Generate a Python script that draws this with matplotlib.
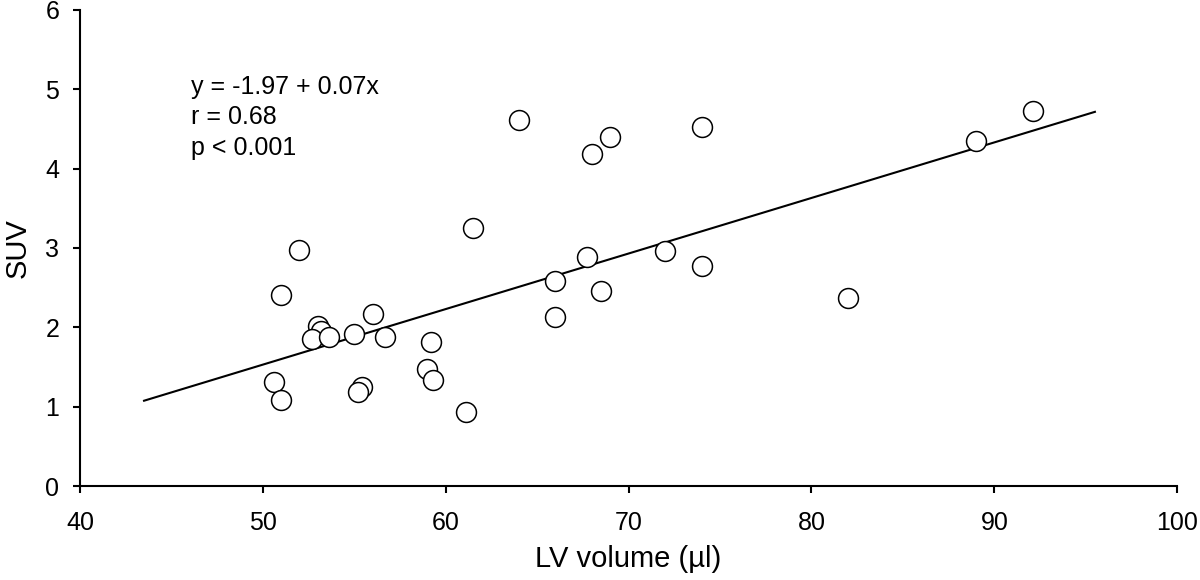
import numpy as np
import matplotlib
matplotlib.use('Agg')
import matplotlib.pyplot as plt

# Dados
lv_volume = [92.1, 89.0, 64.0, 69.0, 68.0, 74.0, 61.5, 52.0, 51.0, 67.7,
             72.0, 74.0, 66.0, 68.5, 82.0, 66.0, 56.0, 53.0, 53.2, 52.7,
             53.6, 55.0, 56.7, 59.2, 59.0, 59.3, 50.6, 51.0, 55.4, 55.2, 61.1]
suv = [4.72, 4.35, 4.61, 4.40, 4.19, 4.53, 3.25, 2.97, 2.41, 2.88,
       2.96, 2.77, 2.58, 2.46, 2.37, 2.13, 2.17, 2.02, 1.95, 1.85,
       1.88, 1.92, 1.88, 1.81, 1.47, 1.34, 1.31, 1.09, 1.25, 1.19, 0.93]

# Reta de regressão (coeficientes do texto) e intervalo de x
intercepto = -1.97
inclinacao = 0.07
x_reta = [43.5, 95.5]
textos = ['y = -1.97 + 0.07x', 'r = 0.68', 'p < 0.001']

plt.rcParams['font.family'] = ['Liberation Sans', 'DejaVu Sans']

fig = plt.figure(figsize=(12, 5.8), dpi=100)
ax = fig.add_axes([0.0667, 0.162, 0.9143, 0.821])

ax.scatter(lv_volume, suv, s=205, facecolors='white', edgecolors='black',
           linewidths=1.1, zorder=3)

xr = np.array(x_reta)
ax.plot(xr, intercepto + inclinacao * xr, color='black', linewidth=1.5, zorder=2)

# Texto com a equação
for i, t in enumerate(textos):
    ax.text(46.05, 4.946 - i * 0.39, t, fontsize=18, va='baseline', ha='left')

ax.set_xlim(40, 100)
ax.set_ylim(0, 6)
ax.set_xticks(range(40, 101, 10))
ax.set_yticks(range(0, 7))

ax.spines['top'].set_visible(False)
ax.spines['right'].set_visible(False)
for s in ['left', 'bottom']:
    ax.spines[s].set_linewidth(1.5)

ax.tick_params(direction='out', length=5, width=1.5, labelsize=18)
ax.tick_params(axis='x', pad=13)
ax.tick_params(axis='y', pad=10)

ax.set_xlabel('LV volume (µl)', fontsize=21, labelpad=7)
ax.set_ylabel('SUV', fontsize=21, labelpad=10)

fig.savefig('out.png', dpi=100)
